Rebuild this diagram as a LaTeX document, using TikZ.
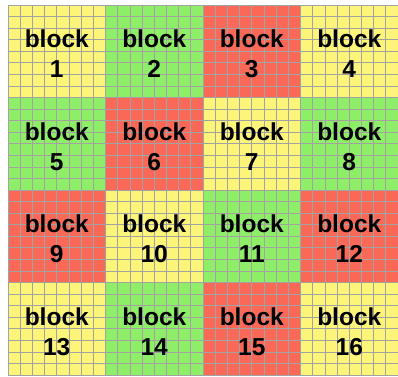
\documentclass[tikz,border=0pt]{standalone}
\usepackage{fontspec}
\setsansfont{Liberation Sans}
\usepackage{tikz}
\usetikzlibrary{positioning}

\definecolor{blockyellow}{RGB}{253,245,122}
\definecolor{blockgreen}{RGB}{142,238,104}
\definecolor{blockred}{RGB}{250,104,88}
\definecolor{gridgray}{RGB}{162,162,162}

\begin{document}
\begin{tikzpicture}[x=1pt,y=1pt,
    every node/.style={font=\sffamily\bfseries\fontsize{24.5}{30}\selectfont},
    blocklabel/.style={align=center,inner sep=0pt},
    gridline/.style={gridgray,line width=0.75pt}]
  \useasboundingbox (0,0) rectangle (398,376);
  % coloured blocks, row by row from the top
  \foreach \c [count=\i from 0] in {blockyellow,blockgreen,blockred,blockyellow,
      blockgreen,blockred,blockyellow,blockgreen,
      blockred,blockyellow,blockgreen,blockred,
      blockyellow,blockgreen,blockred,blockyellow}{
    \pgfmathtruncatemacro\col{mod(\i,4)}
    \pgfmathtruncatemacro\row{div(\i,4)}
    \fill[\c] (8+97.5*\col,371-92.5*\row) rectangle ++(97.5,-92.5);
  }
  % fine grid, 8x8 cells per block
  \foreach \k in {0,...,32}{
    \draw[gridline] (8+12.1875*\k,1) -- ++(0,370);
    \draw[gridline] (8,1+11.5625*\k) -- ++(390,0);
  }
  % labels
  \foreach \n [count=\i from 0] in {1,...,16}{
    \pgfmathtruncatemacro\col{mod(\i,4)}
    \pgfmathtruncatemacro\row{div(\i,4)}
    \node[blocklabel] (b\n) at (56.75+97.5*\col,322-92.5*\row) {block\\\n};
  }
\end{tikzpicture}
\end{document}
